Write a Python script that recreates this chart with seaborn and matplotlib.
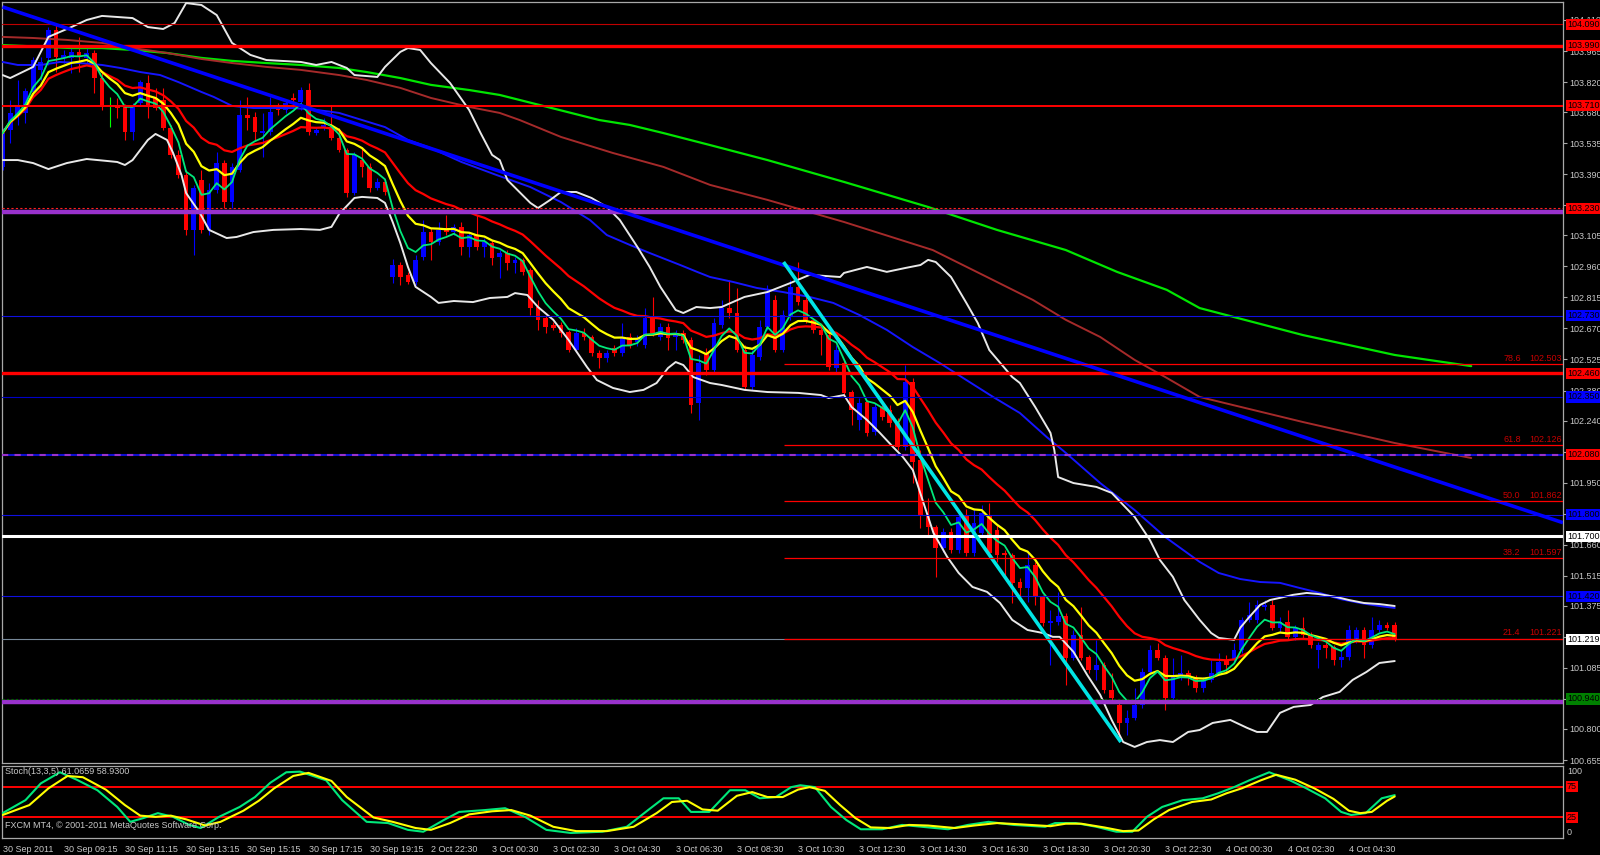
import numpy as np
import pandas as pd
import seaborn as sns
import matplotlib
matplotlib.use("Agg")
import matplotlib.pyplot as plt
import matplotlib.transforms as mtransforms

# ---- USDJPY M15 candles (oldest first) ----
opens = [103.423, 103.596, 103.667, 103.676, 103.774, 103.876, 103.932, 104.063, 103.932, 103.932,
         103.960, 103.932, 103.956, 103.839, 103.708, 103.713, 103.704, 103.587, 103.722, 103.816,
         103.746, 103.736, 103.605, 103.479, 103.386, 103.129, 103.363, 103.129, 103.316, 103.442,
         103.260, 103.409, 103.667, 103.657, 103.582, 103.587, 103.704, 103.690, 103.746, 103.727,
         103.783, 103.582, 103.605, 103.610, 103.559, 103.503, 103.302, 103.456, 103.423, 103.325,
         103.353, 102.910, 102.966, 102.919, 102.886, 103.003, 103.120, 103.073, 103.139, 103.120,
         103.143, 103.050, 103.106, 103.050, 103.069, 103.003, 103.022, 102.975, 102.989, 102.942,
         102.770, 102.718, 102.686, 102.686, 102.653, 102.569, 102.648, 102.629, 102.555, 102.531,
         102.578, 102.555, 102.629, 102.606, 102.592, 102.718, 102.629, 102.676, 102.629, 102.648,
         102.615, 102.321, 102.555, 102.475, 102.686, 102.765, 102.742, 102.569, 102.396, 102.536,
         102.676, 102.802, 102.569, 102.723, 102.863, 102.802, 102.709, 102.662, 102.639, 102.485,
         102.508, 102.373, 102.242, 102.326, 102.186, 102.303, 102.289, 102.228, 102.116, 102.420,
         102.055, 101.799, 101.743, 101.645, 101.720, 101.635, 101.799, 101.621, 101.715, 101.799,
         101.729, 101.621, 101.612, 101.486, 101.458, 101.565, 101.416, 101.295, 101.299, 101.327,
         101.131, 101.239, 101.136, 101.075, 101.098, 100.981, 100.912, 100.828, 100.851, 100.912,
         101.065, 101.168, 101.131, 100.944, 101.042, 101.061, 101.037, 100.991, 101.028, 101.061,
         101.121, 101.121, 101.168, 101.308, 101.308, 101.369, 101.378, 101.271, 101.299, 101.229,
         101.271, 101.239, 101.168, 101.192, 101.182, 101.121, 101.136, 101.215, 101.261, 101.192,
         101.261, 101.285, 101.285]
highs = [103.605, 103.736, 103.830, 103.792, 103.937, 103.937, 104.077, 104.086, 103.970, 103.984,
         104.030, 103.979, 103.970, 103.862, 103.750, 103.746, 103.718, 103.722, 103.830, 103.853,
         103.792, 103.792, 103.620, 103.503, 103.409, 103.339, 103.409, 103.349, 103.493, 103.456,
         103.442, 103.736, 103.750, 103.680, 103.676, 103.750, 103.722, 103.736, 103.769, 103.797,
         103.816, 103.610, 103.652, 103.713, 103.605, 103.512, 103.493, 103.517, 103.442, 103.372,
         103.363, 102.994, 102.980, 102.933, 103.013, 103.176, 103.139, 103.167, 103.199, 103.157,
         103.167, 103.120, 103.199, 103.092, 103.082, 103.036, 103.036, 103.003, 102.999, 102.952,
         102.802, 102.732, 102.700, 102.700, 102.662, 102.672, 102.672, 102.639, 102.569, 102.569,
         102.592, 102.695, 102.648, 102.639, 102.765, 102.816, 102.695, 102.695, 102.662, 102.662,
         102.629, 102.546, 102.578, 102.718, 102.802, 102.896, 102.858, 102.592, 102.569, 102.709,
         102.872, 102.826, 102.756, 102.896, 102.981, 102.816, 102.718, 102.672, 102.648, 102.592,
         102.522, 102.382, 102.345, 102.335, 102.321, 102.312, 102.312, 102.251, 102.499, 102.438,
         102.102, 101.878, 101.752, 101.738, 101.738, 101.808, 101.826, 101.832, 101.845, 101.855,
         101.752, 101.635, 101.621, 101.505, 101.621, 101.579, 101.425, 101.355, 101.439, 101.341,
         101.261, 101.369, 101.145, 101.215, 101.112, 101.061, 100.935, 100.888, 100.991, 101.084,
         101.192, 101.201, 101.145, 101.131, 101.145, 101.075, 101.051, 101.042, 101.121, 101.154,
         101.145, 101.201, 101.322, 101.392, 101.401, 101.401, 101.401, 101.322, 101.355, 101.285,
         101.322, 101.252, 101.206, 101.206, 101.192, 101.168, 101.285, 101.276, 101.276, 101.322,
         101.308, 101.299, 101.299]
lows = [103.409, 103.535, 103.620, 103.629, 103.760, 103.830, 103.900, 103.867, 103.909, 103.862,
        103.867, 103.909, 103.769, 103.690, 103.610, 103.652, 103.549, 103.549, 103.708, 103.652,
        103.690, 103.596, 103.465, 103.372, 103.106, 103.013, 103.115, 103.106, 103.302, 103.232,
        103.232, 103.400, 103.596, 103.549, 103.470, 103.573, 103.667, 103.676, 103.699, 103.690,
        103.573, 103.573, 103.596, 103.549, 103.493, 103.283, 103.293, 103.377, 103.307, 103.316,
        103.293, 102.882, 102.873, 102.877, 102.873, 102.989, 102.989, 103.059, 103.106, 103.106,
        103.013, 103.003, 103.036, 103.003, 102.966, 102.905, 102.942, 102.928, 102.919, 102.732,
        102.662, 102.648, 102.662, 102.629, 102.559, 102.559, 102.615, 102.541, 102.485, 102.513,
        102.541, 102.541, 102.578, 102.587, 102.578, 102.634, 102.615, 102.569, 102.569, 102.601,
        102.275, 102.242, 102.452, 102.466, 102.672, 102.718, 102.559, 102.382, 102.382, 102.522,
        102.662, 102.559, 102.559, 102.709, 102.779, 102.695, 102.648, 102.546, 102.475, 102.466,
        102.350, 102.219, 102.195, 102.167, 102.172, 102.242, 102.209, 102.102, 102.102, 101.948,
        101.738, 101.706, 101.509, 101.626, 101.621, 101.621, 101.607, 101.607, 101.701, 101.607,
        101.579, 101.509, 101.388, 101.416, 101.392, 101.378, 101.281, 101.098, 101.285, 101.005,
        101.121, 101.121, 101.061, 101.028, 100.967, 100.935, 100.744, 100.772, 100.841, 100.898,
        101.051, 101.121, 100.888, 100.935, 101.028, 101.005, 100.972, 100.972, 101.019, 101.051,
        101.061, 101.107, 101.154, 101.299, 101.294, 101.355, 101.261, 101.252, 101.215, 101.215,
        101.224, 101.178, 101.084, 101.131, 101.098, 101.089, 101.121, 101.201, 101.131, 101.178,
        101.252, 101.261, 101.210]
closes = [103.582, 103.676, 103.713, 103.778, 103.923, 103.913, 104.063, 103.937, 103.946, 103.960,
          103.937, 103.956, 103.839, 103.704, 103.708, 103.699, 103.587, 103.704, 103.820, 103.704,
          103.699, 103.605, 103.479, 103.386, 103.129, 103.325, 103.129, 103.316, 103.442, 103.260,
          103.423, 103.667, 103.652, 103.587, 103.592, 103.680, 103.690, 103.722, 103.736, 103.783,
          103.587, 103.596, 103.620, 103.559, 103.503, 103.302, 103.479, 103.423, 103.325, 103.353,
          103.307, 102.966, 102.910, 102.886, 102.989, 103.120, 103.073, 103.129, 103.120, 103.143,
          103.050, 103.106, 103.050, 103.073, 102.999, 103.022, 102.975, 102.989, 102.933, 102.765,
          102.709, 102.676, 102.672, 102.648, 102.569, 102.648, 102.629, 102.555, 102.531, 102.555,
          102.555, 102.629, 102.592, 102.625, 102.718, 102.648, 102.676, 102.625, 102.648, 102.615,
          102.312, 102.508, 102.475, 102.695, 102.765, 102.742, 102.569, 102.396, 102.546, 102.676,
          102.840, 102.569, 102.732, 102.863, 102.793, 102.709, 102.662, 102.639, 102.489, 102.569,
          102.368, 102.289, 102.321, 102.181, 102.303, 102.256, 102.228, 102.116, 102.420, 102.046,
          101.799, 101.743, 101.645, 101.720, 101.635, 101.789, 101.621, 101.761, 101.808, 101.621,
          101.612, 101.612, 101.481, 101.458, 101.565, 101.416, 101.295, 101.304, 101.327, 101.131,
          101.239, 101.131, 101.075, 101.098, 100.981, 100.944, 100.828, 100.851, 100.912, 101.065,
          101.168, 101.131, 100.944, 101.042, 101.061, 101.037, 100.991, 101.028, 101.061, 101.112,
          101.098, 101.168, 101.308, 101.332, 101.378, 101.378, 101.271, 101.299, 101.229, 101.271,
          101.239, 101.192, 101.192, 101.178, 101.121, 101.136, 101.261, 101.261, 101.192, 101.261,
          101.285, 101.271, 101.219]

time_labels = ["30 Sep 2011", "30 Sep 09:15", "30 Sep 11:15", "30 Sep 13:15", "30 Sep 15:15",
               "30 Sep 17:15", "30 Sep 19:15", "2 Oct 22:30", "3 Oct 00:30", "3 Oct 02:30",
               "3 Oct 04:30", "3 Oct 06:30", "3 Oct 08:30", "3 Oct 10:30", "3 Oct 12:30",
               "3 Oct 14:30", "3 Oct 16:30", "3 Oct 18:30", "3 Oct 20:30", "3 Oct 22:30",
               "4 Oct 00:30", "4 Oct 02:30", "4 Oct 04:30"]

price_ticks = [104.110, 103.965, 103.820, 103.680, 103.535, 103.390, 103.245, 103.105, 102.960,
               102.815, 102.670, 102.525, 102.380, 102.240, 102.095, 101.950, 101.805, 101.660,
               101.515, 101.375, 101.230, 101.085, 100.940, 100.800, 100.655]

# ---- slow moving averages / bands (bar, price) ----
ma_blue_x = [0, 2, 5, 7.5, 10, 13, 15.4, 18, 20.6, 23, 26, 27.6, 30, 32.8, 35.4, 38, 41, 43, 44, 47,
             50, 53, 56, 60, 64.6, 69, 73, 76.8, 79, 82, 84.6, 88.6, 90.8, 92.5, 95.5, 98.6, 102,
             105.5, 108.6, 112, 115.6, 119, 122.5, 126, 129.5, 133, 136.5, 139, 143.5, 148, 152,
             156.5, 159, 161.8, 164.4, 167, 169.6, 172.2, 174.8, 177.5, 180, 182]
ma_blue_y = [103.914, 103.900, 103.900, 103.914, 103.909, 103.900, 103.886, 103.867, 103.853, 103.820,
             103.774, 103.751, 103.709, 103.699, 103.699, 103.699, 103.690, 103.681, 103.676, 103.643,
             103.610, 103.550, 103.512, 103.447, 103.386, 103.330, 103.260, 103.176, 103.106, 103.060,
             103.022, 102.966, 102.934, 102.910, 102.887, 102.859, 102.840, 102.817, 102.789, 102.733,
             102.663, 102.583, 102.509, 102.429, 102.350, 102.275, 102.163, 102.089, 101.948, 101.822,
             101.696, 101.580, 101.528, 101.500, 101.486, 101.482, 101.458, 101.435, 101.407, 101.388,
             101.374, 101.365]

ma_brown_x = [0, 4, 8.4, 13, 17, 21.5, 26, 30, 34.5, 39, 44, 47.6, 52, 56, 61, 65, 67.6, 73, 79.8,
              86.4, 92.5, 100, 110, 121.6, 128.7, 134.7, 139, 143.5, 148, 152, 156.5, 170, 182, 192]
ma_brown_y = [104.031, 104.026, 104.017, 104.003, 103.979, 103.956, 103.928, 103.909, 103.891, 103.877,
              103.853, 103.830, 103.793, 103.746, 103.704, 103.676, 103.643, 103.564, 103.489, 103.424,
              103.340, 103.270, 103.167, 103.036, 102.910, 102.803, 102.710, 102.630, 102.523, 102.443,
              102.350, 102.233, 102.135, 102.065]

ma_green_x = [0, 9, 13, 17, 21.5, 26, 30, 34.5, 39, 44, 47.6, 52, 56, 61, 65, 78, 82, 86.4, 92.5,
              100, 110, 121, 130, 139, 145.7, 152.2, 156.5, 170, 182, 192]
ma_green_y = [103.993, 103.979, 103.979, 103.970, 103.956, 103.933, 103.919, 103.909, 103.900, 103.886,
              103.867, 103.839, 103.807, 103.783, 103.760, 103.643, 103.620, 103.582, 103.526, 103.456,
              103.354, 103.237, 103.130, 103.036, 102.934, 102.850, 102.765, 102.639, 102.546, 102.494]

bb_up_x = [0, 1, 4, 6, 9, 11, 13, 17, 19, 21, 22.5, 24, 26, 28, 30, 32.4, 34.5, 39, 41, 43, 45, 46,
           49, 50, 52, 53, 54.6, 56, 58.5, 61, 62.5, 64, 65, 66, 69, 70, 71.6, 73, 75, 77, 79, 80.7,
           83, 84.6, 86, 88, 89, 90.7, 92.5, 94, 97, 100, 103, 105.5, 109.5, 110, 113, 115.6, 118,
           120, 121, 122, 124, 126, 127.5, 129, 132, 133, 135, 137, 137.5, 138, 140, 143, 145, 148,
           150, 151.3, 153, 154.5, 156.5, 158, 159, 161, 161.8, 163, 164.4, 165.7, 167, 168.7,
           170.5, 172, 174.4, 176, 178, 180, 182]
bb_up_y = [103.853, 103.839, 103.891, 104.031, 104.077, 104.110, 104.129, 104.119, 104.077, 104.068,
           104.096, 104.189, 104.180, 104.133, 104.003, 103.947, 103.923, 103.914, 103.900, 103.914,
           103.886, 103.853, 103.844, 103.891, 103.961, 103.979, 103.970, 103.909, 103.816, 103.690,
           103.582, 103.480, 103.456, 103.363, 103.256, 103.232, 103.270, 103.307, 103.307, 103.279,
           103.237, 103.176, 103.050, 102.957, 102.864, 102.756, 102.742, 102.770, 102.765, 102.770,
           102.817, 102.840, 102.882, 102.920, 102.910, 102.929, 102.957, 102.934, 102.952, 102.966,
           102.990, 102.980, 102.910, 102.789, 102.695, 102.569, 102.443, 102.415, 102.303, 102.182,
           102.102, 101.976, 101.948, 101.930, 101.902, 101.790, 101.682, 101.589, 101.510, 101.402,
           101.309, 101.248, 101.225, 101.216, 101.272, 101.323, 101.379, 101.402, 101.412, 101.426,
           101.435, 101.430, 101.416, 101.402, 101.388, 101.383, 101.374]

bb_lo_x = [0, 2, 4, 6, 8.4, 11, 13.6, 15, 16, 17, 19, 20, 21.5, 22.3, 23.4, 24, 25.8, 27, 29.3, 30.6,
           32.8, 35.4, 39, 41.5, 43, 44, 46, 47, 49, 50, 51, 52, 53, 54, 56, 57, 59, 61.5, 63.7, 66,
           67, 68.6, 70, 72, 74, 76.4, 77.7, 79.8, 82, 83.8, 85.5, 87, 88, 89, 90.3, 92.5, 94, 97,
           100, 104, 107, 108, 110, 111, 113, 114.7, 116.4, 117.7, 119, 120.4, 121.7, 123.5, 125,
           126.8, 128.7, 130.4, 132, 134, 136, 137.3, 138.2, 140, 141.8, 143.5, 145, 146.5, 148,
           149.6, 151.3, 153, 155, 156.5, 158.2, 160.5, 162.7, 164, 165.3, 167, 168.8, 171, 172.6,
           174.8, 176.5, 178.3, 180, 182]
bb_lo_y = [103.456, 103.456, 103.442, 103.414, 103.442, 103.461, 103.452, 103.447, 103.433, 103.456,
           103.550, 103.578, 103.550, 103.489, 103.386, 103.302, 103.209, 103.130, 103.092, 103.097,
           103.120, 103.130, 103.134, 103.130, 103.144, 103.204, 103.279, 103.284, 103.279, 103.256,
           103.167, 103.069, 102.957, 102.864, 102.817, 102.789, 102.798, 102.793, 102.812, 102.817,
           102.835, 102.826, 102.770, 102.710, 102.616, 102.490, 102.429, 102.392, 102.373, 102.383,
           102.415, 102.485, 102.513, 102.499, 102.443, 102.415, 102.406, 102.383, 102.373, 102.369,
           102.359, 102.345, 102.359, 102.303, 102.243, 102.182, 102.117, 102.070, 102.009, 101.855,
           101.715, 101.603, 101.528, 101.463, 101.440, 101.388, 101.309, 101.262, 101.248, 101.230,
           101.230, 101.160, 101.052, 100.959, 100.842, 100.739, 100.716, 100.739, 100.748, 100.739,
           100.786, 100.795, 100.828, 100.842, 100.805, 100.786, 100.786, 100.875, 100.903, 100.912,
           100.949, 100.973, 101.029, 101.066, 101.108, 101.117]

# ---- Stochastic(13,3,5) (bar, value) ----
st_main_x = [0, 3, 5, 7.5, 9.7, 12.4, 15, 16.7, 18.4, 20.3, 22.3, 24.4, 25.9, 28.3, 31, 33, 35, 37.1,
             38.9, 42.3, 44.4, 47.6, 50.4, 53, 55, 57.7, 59.7, 63.1, 65.7, 68.3, 71.1, 74.3, 78.4,
             81.6, 84.4, 86.4, 88.4, 90, 92.4, 95.1, 97.1, 99, 101.1, 103.1, 104.3, 106.2, 108.3,
             110.3, 112.2, 115, 117.6, 120.2, 123.6, 126.2, 128.9, 132.2, 136.3, 137.6, 140.3, 143,
             145.6, 147.7, 149.6, 151.6, 154.3, 156.9, 158.9, 161, 163, 165.6, 168.3, 170.3, 172.9,
             175, 176.3, 178.2, 180.3, 182]
st_main_y = [32, 53, 80, 98, 86, 69, 42, 18, 24, 32, 26, 13, 8, 26, 42, 58, 81, 98,
             99, 85, 53, 18, 16, 5, 2, 21, 34, 37, 40, 26, 5, 0, 2,
             10, 37, 56, 56, 34, 34, 69, 69, 56, 58, 74, 77, 74, 42,
             21, 6, 6, 13, 10, 6, 13, 18, 13, 10, 16, 16, 10,
             2, 2, 26, 42, 53, 56, 64, 74, 85, 98, 85, 73, 56,
             34, 29, 32, 56, 61.07]
st_sig_x = [0, 3.5, 6, 8.5, 10.5, 13.5, 16, 18, 20, 22, 24, 26.5, 28.5, 31.5, 33.5, 35.5, 38, 40,
            43, 45, 48.5, 51, 54, 56, 58.5, 61, 64, 66.5, 69, 72, 75, 79, 82.5, 85.5, 87.5, 89.5,
            91.5, 93.5, 96, 98, 100, 102, 104, 105.5, 107.5, 109.5, 111.5, 113.5, 116, 118.5, 121,
            124.5, 127, 130, 133, 137, 139, 141, 144, 146.5, 148.5, 150.5, 152.5, 155.5, 158, 160,
            162, 164.5, 166.5, 169, 171.5, 174, 176, 177.5, 179, 181, 182]
st_sig_y = [29, 45, 72, 92, 90, 70, 45, 28, 26, 28, 22, 12, 18, 36, 52, 72, 92, 97,
            84, 58, 25, 18, 8, 5, 16, 30, 35, 37, 28, 10, 3, 3, 10, 32, 50, 52,
            38, 36, 60, 66, 58, 58, 70, 74, 68, 45, 24, 9, 8, 13, 12,
            8, 12, 16, 14, 11, 15, 15, 9, 3, 4, 22, 37, 50, 54, 64,
            72, 85, 94, 86, 72, 55, 36, 32, 34, 52, 58.93]

# ---- drawn objects ----
trend_x = [0, 204]
trend_y = [104.171, 101.763]
cyan_x = [102.1, 146.2]
cyan_y = [102.980, 100.739]
fib_start = 102.1
fib_ratios = ["78.6", "61.8", "50.0", "38.2", "21.4"]
fib_prices = [102.503, 102.126, 101.862, 101.597, 101.221]

level_prices = [104.090, 103.990, 103.710, 103.230, 102.730, 102.460, 102.350,
                102.080, 101.800, 101.700, 101.420, 101.219, 100.940]
purple_prices = [103.215, 100.926]

level_styles = [
    dict(color="#C00000", lw=0.8),
    dict(color="#FF0000", lw=2.4),
    dict(color="#FF0000", lw=1.4),
    dict(color="#FF2020", lw=0.8, ls=(0, (2, 2))),
    dict(color="#1010E0", lw=0.8),
    dict(color="#FF0000", lw=2.4),
    dict(color="#0000C8", lw=0.8),
    dict(color="#1010D0", lw=1.5),
    dict(color="#1010E0", lw=0.8),
    dict(color="#FFFFFF", lw=2.2),
    dict(color="#1010E0", lw=0.8),
    dict(color="#778899", lw=0.8),
    dict(color="#006400", lw=0.8, ls=(0, (2, 2))),
]
box_colors = ["#FF0000", "#FF0000", "#FF0000", "#FF0000", "#0000FF", "#FF0000", "#0000FF",
              "#FF0000", "#0000FF", "#FFFFFF", "#0000FF", "#FFFFFF", "#008000"]

stoch_levels = [75, 25]

# ---------------------------------------------------------------------------
sns.set_theme(style="dark", rc={"axes.facecolor": "black", "figure.facecolor": "black"})
plt.rcParams["font.family"] = ["Liberation Sans", "DejaVu Sans"]

df = pd.DataFrame({"o": opens, "h": highs, "l": lows, "c": closes})
df["x"] = np.arange(len(df))

# fast averages from the candles
df["ema_fast"] = df["c"].ewm(span=5).mean()
df["ema_mid"] = df["c"].ewm(span=10).mean()
df["ema_slow"] = df["c"].ewm(span=21).mean()

W, H = 1600, 855
fig = plt.figure(figsize=(W / 100, H / 100), dpi=100)
ax = fig.add_axes([2 / W, 1 - 763 / H, 1561 / W, 761 / H])
ax2 = fig.add_axes([2 / W, 1 - 838 / H, 1561 / W, 72 / H])

frame = "#A8A8A8"
txt = "#C8C8C8"
fs = 6.5
for a in (ax, ax2):
    a.set_facecolor("black")
    for s in a.spines.values():
        s.set_color(frame)
        s.set_linewidth(0.9)
    a.set_xlim(-0.07, 204.0)
    a.grid(False)

# candles
body_lo = np.minimum(df["o"], df["c"])
body_h = np.maximum((df["c"] - df["o"]).abs(), 0.004)
cols = np.where(df["c"] > df["o"], "#0000FF", np.where(df["c"] < df["o"], "#FF0000", "#00FF00"))
ax.vlines(df["x"], df["l"], df["h"], colors=cols, lw=0.8, zorder=2)
ax.bar(df["x"], body_h, bottom=body_lo, width=0.62, color=cols, linewidth=0, zorder=2)

# indicator lines
line_kw = dict(ax=ax, estimator=None, sort=False, legend=False)
sns.lineplot(x=ma_green_x, y=ma_green_y, color="#00E600", lw=1.6, zorder=3, **line_kw)
sns.lineplot(x=ma_brown_x, y=ma_brown_y, color="#A52A2A", lw=1.4, zorder=3, **line_kw)
sns.lineplot(x=ma_blue_x, y=ma_blue_y, color="#1515FF", lw=1.4, zorder=3, **line_kw)
sns.lineplot(x=bb_up_x, y=bb_up_y, color="#E8E8E8", lw=1.4, zorder=3, **line_kw)
sns.lineplot(x=bb_lo_x, y=bb_lo_y, color="#E8E8E8", lw=1.4, zorder=3, **line_kw)
sns.lineplot(data=df, x="x", y="ema_slow", color="#FF0000", lw=1.6, zorder=3, **line_kw)
sns.lineplot(data=df, x="x", y="ema_mid", color="#FFFF00", lw=1.6, zorder=3, **line_kw)
sns.lineplot(data=df, x="x", y="ema_fast", color="#00E87A", lw=1.3, zorder=3, **line_kw)

# horizontal levels
for p in purple_prices:
    ax.axhline(p, color="#9932CC", lw=3.2, zorder=4)
for p, st in zip(level_prices, level_styles):
    ax.axhline(p, zorder=4, **st)
ax.axhline(level_prices[7], color="#9932CC", lw=1.5, ls=(0, (3, 3)), zorder=4)

# trend lines
ax.plot(trend_x, trend_y, color="#0000FF", lw=2.6, zorder=4, solid_capstyle="butt")
ax.plot(cyan_x, cyan_y, color="#00E5E5", lw=2.6, zorder=4, solid_capstyle="butt")

# fibonacci
xt = mtransforms.blended_transform_factory(ax.transAxes, ax.transData)
for r, p in zip(fib_ratios, fib_prices):
    ax.hlines(p, fib_start, 204.0, color="#FF0000", lw=0.9, zorder=4)
    ax.text(0.9616, p + 0.006, r, transform=xt, color="#C80000", fontsize=fs,
            ha="left", va="bottom", zorder=5)
    ax.text(0.9995, p + 0.006, f"{p:.3f}", transform=xt, color="#C80000", fontsize=fs,
            ha="right", va="bottom", zorder=5)

ax.set_ylim(100.641, 104.194)
ax.yaxis.tick_right()
ax.set_yticks(price_ticks)
ax.set_yticklabels([f"{v:.3f}" for v in price_ticks])
ax.tick_params(axis="y", colors=frame, labelcolor=txt, labelsize=fs, length=3, width=0.8, pad=1.5,
               direction="out")
ax.set_xticks([])
ax.set_xlabel("")
ax.set_ylabel("")

# price boxes on the right scale
for p, c in zip(level_prices, box_colors):
    ax.text(1.0 + 4 / 1561, p, f"{p:.3f}", transform=xt, fontsize=fs, color="black",
            ha="left", va="center", clip_on=False, zorder=6,
            bbox=dict(boxstyle="square,pad=0.12", fc=c, ec="none"))

# stochastic panel
for lv in stoch_levels:
    ax2.axhline(lv, color="#FF0000", lw=1.4, zorder=2)
sns.lineplot(x=st_main_x, y=st_main_y, color="#00E87A", lw=1.5, zorder=3, ax=ax2,
             estimator=None, sort=False, legend=False)
sns.lineplot(x=st_sig_x, y=st_sig_y, color="#FFFF00", lw=1.5, zorder=3, ax=ax2,
             estimator=None, sort=False, legend=False)
ax2.set_ylim(-8.1, 108.1)
ax2.set_yticks([])
ax2.set_ylabel("")
ax2.set_xlabel("")
yt2 = mtransforms.blended_transform_factory(ax2.transAxes, ax2.transData)
for v in (100, 0):
    ax2.text(1.0 + 4 / 1561, v, str(v), transform=yt2, fontsize=fs, color=txt,
             ha="left", va="center", clip_on=False)
for v in stoch_levels:
    ax2.text(1.0 + 4 / 1561, v, str(v), transform=yt2, fontsize=fs, color="black",
             ha="left", va="center", clip_on=False, zorder=6,
             bbox=dict(boxstyle="square,pad=0.12", fc="#FF0000", ec="none"))
ax2.text(0.002, 0.985, "Stoch(13,3,5) 61.0659 58.9300", transform=ax2.transAxes,
         fontsize=fs, color=txt, ha="left", va="top")
ax2.text(0.002, 0.17, "FXCM MT4, \u00a9 2001-2011 MetaQuotes Software Corp.", transform=ax2.transAxes,
         fontsize=fs, color=txt, ha="left", va="center")

ax2.set_xticks(np.arange(len(time_labels)) * 8)
ax2.set_xticklabels(time_labels)
ax2.tick_params(axis="x", colors=frame, labelcolor=txt, labelsize=fs, length=4, width=0.8, pad=1,
                direction="out")
for lab in ax2.get_xticklabels():
    lab.set_horizontalalignment("left")

fig.savefig("out.png", dpi=100, facecolor="black")
